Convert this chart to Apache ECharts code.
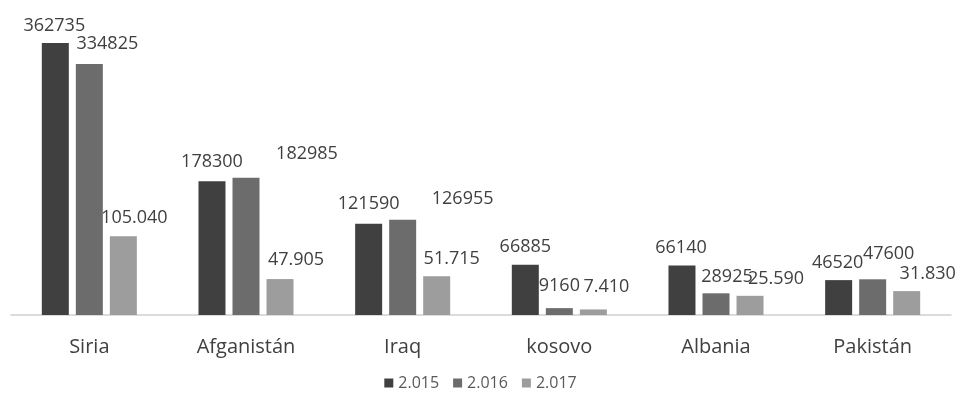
<!DOCTYPE html>
<html>
<head>
<meta charset="utf-8">
<script src="https://cdn.jsdelivr.net/npm/echarts@6/dist/echarts.min.js"></script>
<style>
  html, body { margin: 0; padding: 0; background: #ffffff; }
  #chart { width: 961px; height: 395px; }
</style>
</head>
<body>
<div id="chart"></div>
<script>
// Country categories and yearly values
const categories = ['Siria', 'Afganistán', 'Iraq', 'kosovo', 'Albania', 'Pakistán'];
const seriesNames = ['2.015', '2.016', '2.017'];
const values2015 = [362735, 178300, 121590, 66885, 66140, 46520];
const values2016 = [334825, 182985, 126955, 9160, 28925, 47600];
const values2017 = [105040, 47905, 51715, 7410, 25590, 31830];

// Label placement tweaks (dx, dy) for each bar, per series
const labelShift2015 = [[-1, -3], [0, -5], [0, -6], [0, -4], [-1, -4], [-1, -3]];
const labelShift2016 = [[18, -6], [61, -10], [60, -7], [0, -8], [11, -2], [16, -11]];
const labelShift2017 = [[11, -4], [16, -5], [15, -3], [13, -9], [26, -3], [21, -3]];

const colors = ['#404040', '#6c6c6c', '#9d9d9d'];

function dotted(v) {
  return String(v).replace(/\B(?=(\d{3})+(?!\d))/g, '.');
}

function buildSeries(name, values, shifts, color, fmt) {
  return {
    name: name,
    type: 'bar',
    barWidth: 27,
    barGap: '26%',
    itemStyle: { color: color },
    data: values.map((v, i) => ({
      value: v,
      label: { offset: shifts[i] }
    })),
    label: {
      show: true,
      position: 'top',
      distance: 5,
      color: '#404040',
      fontFamily: 'Open Sans',
      fontSize: 18,
      formatter: p => fmt(p.value)
    }
  };
}

const chart = echarts.init(document.getElementById('chart'));
chart.setOption({
  animation: false,
  grid: { left: 11, right: 10, top: 15, bottom: 80 },
  xAxis: {
    type: 'category',
    data: categories,
    axisLine: { lineStyle: { color: '#d0d0d0', width: 1.5 } },
    axisTick: { show: false },
    axisLabel: {
      color: '#404040',
      fontFamily: 'Open Sans',
      fontSize: 20,
      margin: 22
    }
  },
  yAxis: {
    type: 'value',
    min: 0,
    max: 400000,
    show: false
  },
  legend: {
    top: 375,
    left: 'center',
    padding: 0,
    icon: 'rect',
    itemWidth: 9,
    itemHeight: 9,
    itemGap: 14,
    textStyle: { color: '#595959', fontFamily: 'Open Sans', fontSize: 16 },
    data: seriesNames
  },
  series: [
    buildSeries(seriesNames[0], values2015, labelShift2015, colors[0], v => String(v)),
    buildSeries(seriesNames[1], values2016, labelShift2016, colors[1], v => String(v)),
    buildSeries(seriesNames[2], values2017, labelShift2017, colors[2], dotted)
  ]
});
</script>
</body>
</html>
